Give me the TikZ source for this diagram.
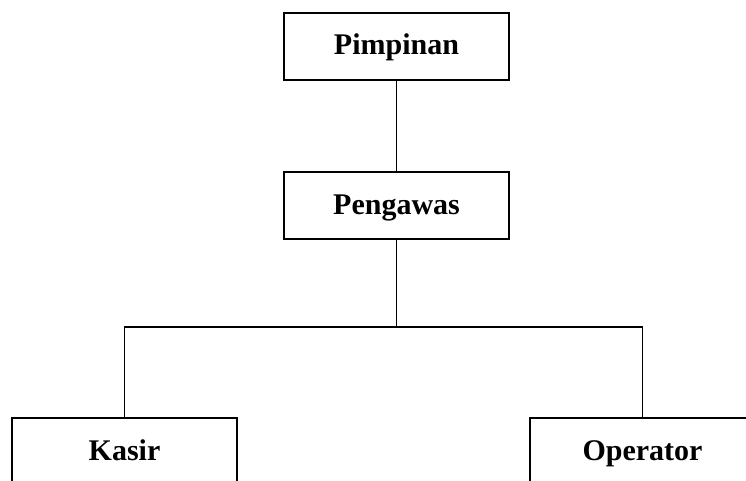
\documentclass[tikz,border=0pt]{standalone}
\usepackage{fontspec}
\setmainfont{Liberation Serif}
\begin{document}
\begin{tikzpicture}[x=1pt,y=-1pt]
\tikzset{
  box/.style={draw, line width=1.5pt, inner sep=0pt, minimum width=225pt, minimum height=67pt,
    text height=21pt, text depth=4pt,
    font=\fontsize{30}{36}\selectfont\bfseries},
  conn/.style={line width=1.4pt}
}
\useasboundingbox (0,0) rectangle (746,481);
\clip (0,0) rectangle (746,481);
\fill[white] (0,0) rectangle (746,481);
\node[box] (pim) at (396.5,46.5) {Pimpinan};
\node[box] (pen) at (396.5,205.5) {Pengawas};
\node[box] (kas) at (124.5,451.5) {Kasir};
\node[box] (op) at (642.5,451.5) {Operator};
\coordinate (j) at (396.5,327);
\draw[conn] (pim.south) -- (pen.north);
\draw[conn] (pen.south) -- (j);
\draw[conn] (kas.north) |- (j) -| (op.north);
\end{tikzpicture}
\end{document}
